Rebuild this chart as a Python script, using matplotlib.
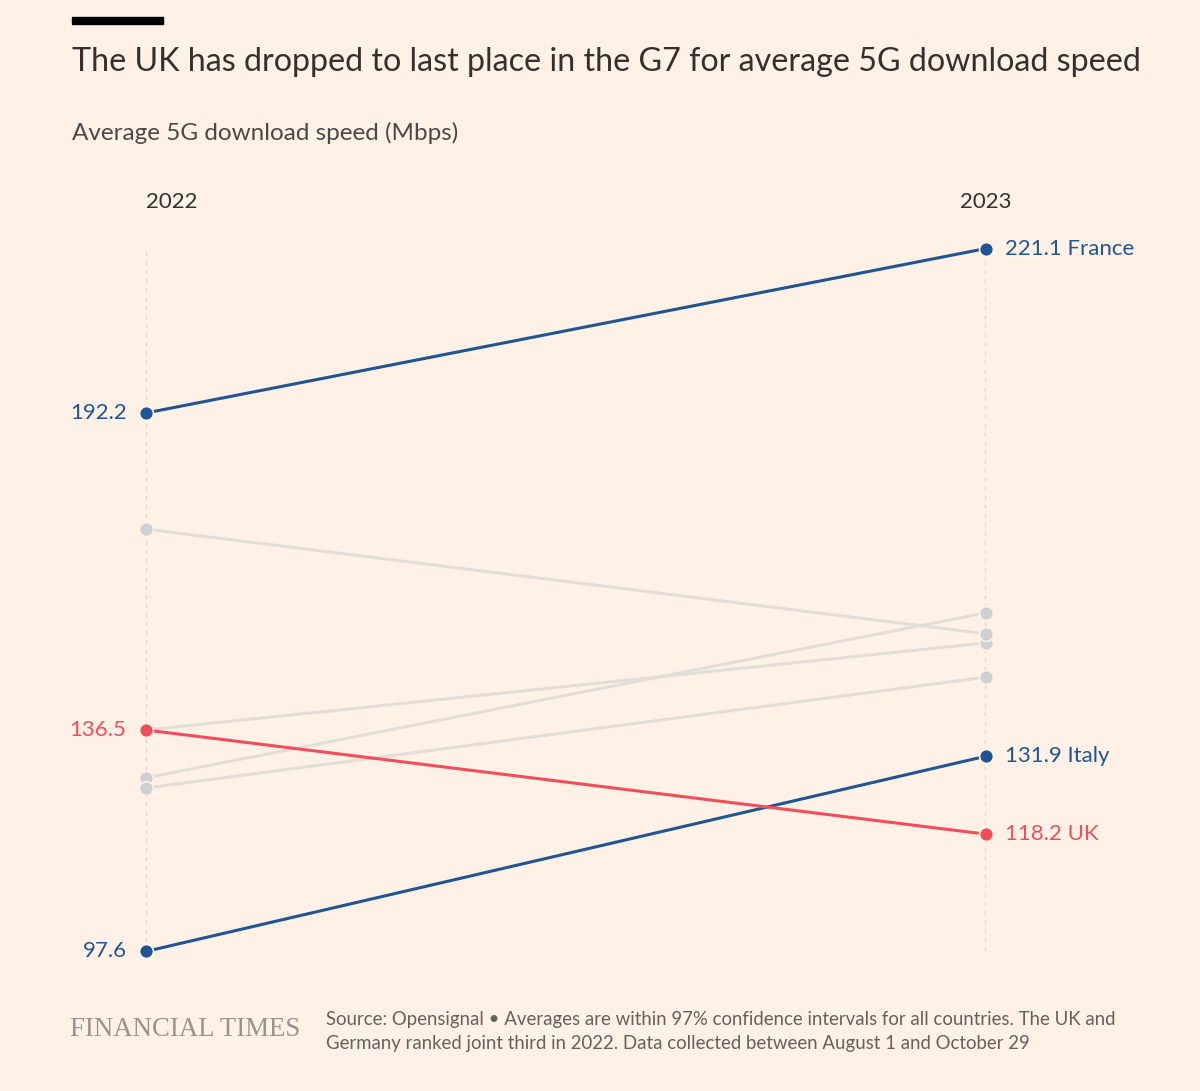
import matplotlib
matplotlib.use("Agg")
import matplotlib.pyplot as plt
from matplotlib.patches import Rectangle

plt.rcParams['font.family'] = ['Lato', 'DejaVu Sans']

years = ["2022", "2023"]
countries = ["France", "Italy", "UK", "Germany", "US", "Canada", "Japan"]
speed_2022 = [192.2, 97.6, 136.5, 136.5, 171.8, 128.1, 126.3]
speed_2023 = [221.1, 131.9, 118.2, 151.8, 153.4, 157.1, 145.8]
highlight = {"France": "#1f5592", "Italy": "#1f5592", "UK": "#f04e5b"}
left_labels = ["France", "UK", "Italy"]

W, H = 1200, 1091
bg = "#fff1e5"
fig = plt.figure(figsize=(W / 100, H / 100), dpi=100, facecolor=bg)

def fx(px):
    return px / W

def fy(py):
    return 1 - py / H

# axes spans the two year columns and the value range
ax = fig.add_axes([fx(146), fy(951.4), fx(986) - fx(146), (951.4 - 248.5) / H])
ax.set_facecolor(bg)
ax.set_xlim(0, 1)
ax.set_ylim(97.6, 221.1)
ax.axis("off")

for x in [0, 1]:
    ax.axvline(x, color="#d9ccc3", lw=1.3, ls=(0, (2, 3)), zorder=0)

grey_line = "#e3ddd8"
grey_dot = "#cfd0d3"
for c, a, b in zip(countries, speed_2022, speed_2023):
    if c in highlight:
        continue
    ax.plot([0, 1], [a, b], color=grey_line, lw=2.2, zorder=1, clip_on=False)
    ax.plot([0, 1], [a, b], ls="none", marker="o", ms=10, mfc=grey_dot,
            mec=bg, mew=1.2, zorder=2, clip_on=False)

for c, a, b in zip(countries, speed_2022, speed_2023):
    if c not in highlight:
        continue
    col = highlight[c]
    ax.plot([0, 1], [a, b], color=col, lw=2.2, zorder=3, clip_on=False)
    ax.plot([0, 1], [a, b], ls="none", marker="o", ms=10, mfc=col,
            mec=bg, mew=1.2, zorder=4, clip_on=False)
    if c in left_labels:
        ax.annotate(f"{a}", (0, a), xytext=(-14, 0), textcoords="offset points",
                    ha="right", va="center", color=col, fontsize=16)
    ax.annotate(f"{b} {c}", (1, b), xytext=(14, 0), textcoords="offset points",
                ha="left", va="center", color=col, fontsize=16)

# year headers
fig.text(fx(146), fy(202), years[0], ha="left", va="center", fontsize=16, color="#33302e")
fig.text(fx(986), fy(202), years[1], ha="center", va="center", fontsize=16, color="#33302e")

# top bar, title, subtitle
fig.add_artist(Rectangle((fx(72), fy(24)), fx(163) - fx(72), 7 / H,
                         transform=fig.transFigure, color="#000000"))
fig.text(fx(72), fy(62), "The UK has dropped to last place in the G7 for average 5G download speed",
         ha="left", va="center", fontsize=23.2, color="#33302e")
fig.text(fx(72), fy(133), "Average 5G download speed (Mbps)",
         ha="left", va="center", fontsize=17.5, color="#4d4845")

# footer
fig.text(fx(70), fy(1029), "FINANCIAL TIMES", ha="left", va="center",
         fontsize=19.3, color="#9a938d", family="Liberation Serif")
fig.text(fx(326), fy(1031),
         "Source: Opensignal \u2022 Averages are within 97% confidence intervals for all countries. The UK and\n"
         "Germany ranked joint third in 2022. Data collected between August 1 and October 29",
         ha="left", va="center", fontsize=13.4, color="#66605c", linespacing=1.5)

fig.savefig("out.png", dpi=100, facecolor=bg)
